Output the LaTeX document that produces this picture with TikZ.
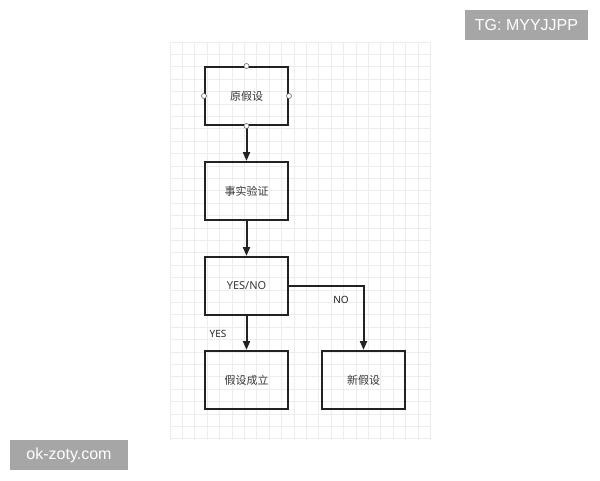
\documentclass[tikz,border=0pt]{standalone}
\usepackage{fontspec}
\setmainfont{Noto Sans}
\newfontfamily\cjk{Noto Sans CJK SC}
\newfontfamily\wmfont{Liberation Sans}
\usetikzlibrary{arrows.meta}
\definecolor{gridc}{HTML}{EDEDED}
\definecolor{boxc}{HTML}{222222}
\definecolor{wmc}{HTML}{A6A6A6}
\tikzset{
  box/.style={draw=boxc, line width=2pt, minimum width=83pt, minimum height=58pt, inner sep=0pt, font=\cjk\fontsize{11}{13}\selectfont, text=boxc!90},
  conn/.style={draw=boxc, line width=2pt, -{Triangle[length=9pt,width=7pt]}},
  lbl/.style={font=\fontsize{10}{12}\selectfont, text=boxc, inner sep=0pt},
  port/.style={circle, draw=gray!80!black, fill=white, line width=0.6pt, minimum size=5pt, inner sep=0pt},
  wm/.style={fill=wmc, text=white, font=\wmfont\fontsize{16}{19}\selectfont, inner sep=0pt}
}
\begin{document}
\begin{tikzpicture}[x=1pt,y=-1pt]
\useasboundingbox (0,0) rectangle (600,480);
\fill[white] (0,0) rectangle (600,480);
% grid
\foreach \i in {0,...,21} {
  \draw[gridc, line width=0.8pt] (170+12.4*\i,42) -- (170+12.4*\i,440);
}
\foreach \j in {0,...,32} {
  \draw[gridc, line width=0.8pt] (170,42+12.4*\j) -- (430,42+12.4*\j);
}
% boxes
\node[box] (h0) at (246.5,96) {原假设};
\node[box] (fv) at (246.5,191) {事实验证};
\node[box] (yn) at (246.5,286) {\fontspec{Noto Sans}YES/NO};
\node[box] (ok) at (246.5,380) {假设成立};
\node[box] (nh) at (363.5,380) {新假设};
% connectors
\draw[conn] (h0.south) -- (fv.north);
\draw[conn] (fv.south) -- (yn.north);
\draw[conn] (yn.south) -- (ok.north);
\draw[conn] (yn.east) -| (nh.north);
\node[lbl] (lno) at (341,300) {NO};
\node[lbl] (lyes) at (218,334) {YES};
% ports on first box
\node[port] (p1) at (h0.north) {};
\node[port] (p2) at (h0.south) {};
\node[port] (p3) at (h0.west) {};
\node[port] (p4) at (h0.east) {};
% watermarks
\node[wm, minimum width=123pt, minimum height=30pt] (wm1) at (526.5,25) {TG: MYYJJPP};
\node[wm, minimum width=118pt, minimum height=30pt] (wm2) at (69,455) {ok-zoty.com};
\end{tikzpicture}
\end{document}
